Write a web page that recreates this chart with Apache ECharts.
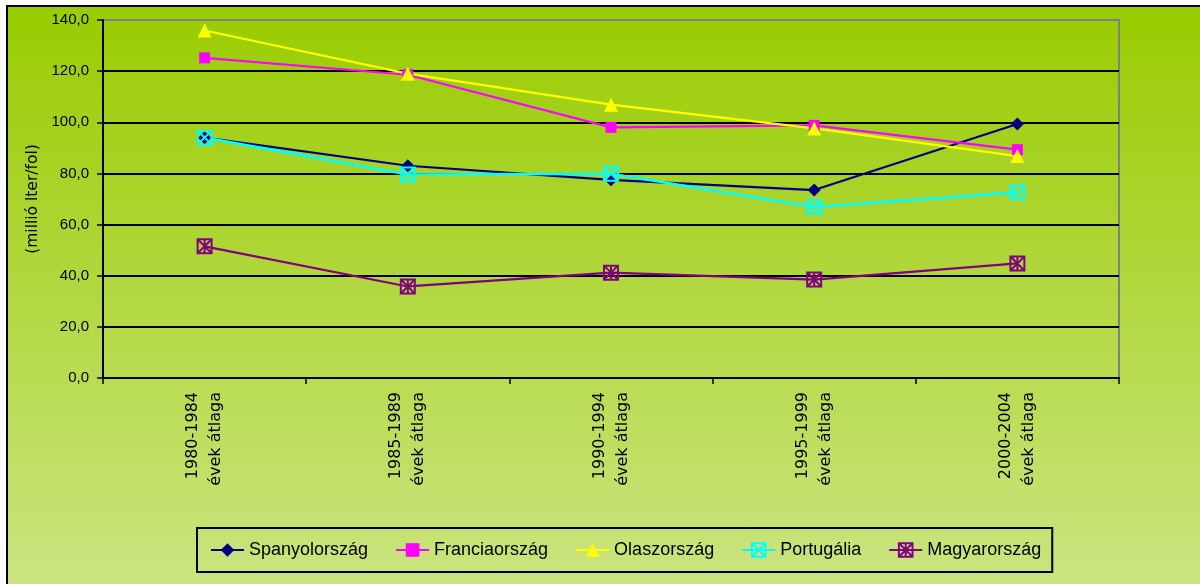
<!DOCTYPE html>
<html>
<head>
<meta charset="utf-8">
<script src="https://cdn.jsdelivr.net/npm/echarts@6/dist/echarts.min.js"></script>
<style>html,body{margin:0;padding:0;background:#fff}#c{width:1200px;height:584px}</style>
</head>
<body>
<div id="c"></div>
<script>
const categories = ['1980-1984\névek átlaga', '1985-1989\névek átlaga', '1990-1994\névek átlaga', '1995-1999\névek átlaga', '2000-2004\névek átlaga'];
const spanyolorszag = [94.0, 83.0, 77.5, 73.5, 99.3];
const franciaorszag = [125.2, 118.6, 98.0, 98.8, 89.3];
const olaszorszag = [135.9, 119.0, 106.9, 97.6, 86.8];
const portugalia = [94.0, 79.6, 79.9, 66.9, 72.6];
const magyarorszag = [51.5, 35.8, 41.2, 38.5, 44.8];
const yAxisTitle = '(millió lter/fol)';

const boxX = 'path://M0 0 L10 0 L10 10 L0 10 Z M0 0 L10 10 M10 0 L0 10';
const boxStar = 'path://M0 0 L10 0 L10 10 L0 10 Z M0 0 L10 10 M10 0 L0 10 M5 0 L5 10';

const chart = echarts.init(document.getElementById('c'), null, {renderer: 'canvas'});
const splitColors = ['#000', '#000', '#000', '#000', '#000', '#000', '#000', '#808080'];

function mk(name, data, color, symbol, size, width, hollow) {
  return {
    name: name, type: 'line', data: data, symbol: symbol, symbolSize: size,
    animation: false,
    lineStyle: {color: color, width: width},
    itemStyle: hollow ? {color: 'rgba(0,0,0,0)', borderColor: color, borderWidth: 2} : {color: color, borderWidth: 0},
    emphasis: {disabled: true}
  };
}

chart.setOption({
  backgroundColor: '#ffffff',
  animation: false,
  graphic: [{
    type: 'rect', z: -100, silent: true,
    shape: {x: 7, y: 6, width: 1210, height: 600},
    style: {
      fill: new echarts.graphic.LinearGradient(0, 0, 0, 1, [
        {offset: 0, color: '#99cc00'},
        {offset: 1, color: '#cde585'}
      ]),
      stroke: '#000', lineWidth: 2
    }
  }],
  grid: {left: 103, right: 81, top: 20, bottom: 206, show: true, borderColor: '#808080', borderWidth: 2, backgroundColor: 'transparent'},
  legend: {
    left: 197, top: 528,
    padding: [13, 11, 13, 13],
    borderColor: '#000', borderWidth: 2,
    itemWidth: 33, itemHeight: 17, itemGap: 27,
    textStyle: {fontFamily: 'Arial, "Liberation Sans"', fontSize: 18, color: '#000'},
    data: ['Spanyolország', 'Franciaország', 'Olaszország', 'Portugália', 'Magyarország']
  },
  xAxis: {
    type: 'category', data: categories, boundaryGap: true,
    axisLine: {lineStyle: {color: '#000', width: 2}},
    axisTick: {show: true, length: 6, lineStyle: {color: '#000', width: 1.5}},
    axisLabel: {rotate: 90, margin: 14, interval: 0, fontFamily: '"DejaVu Sans"', fontSize: 16, lineHeight: 23, color: '#000'}
  },
  yAxis: {
    type: 'value', min: 0, max: 140, interval: 20,
    name: yAxisTitle, nameLocation: 'middle', nameGap: 61, nameRotate: 90,
    nameTextStyle: {fontFamily: '"DejaVu Sans"', fontSize: 15.5, color: '#000'},
    axisLine: {show: true, lineStyle: {color: '#000', width: 2}},
    axisTick: {show: true, length: 6, lineStyle: {color: '#000', width: 1.5}},
    axisLabel: {margin: 14, fontFamily: 'Arial, "Liberation Sans"', fontSize: 15, color: '#000',
      formatter: function (v) { return v.toFixed(1).replace('.', ','); }},
    splitLine: {show: true, lineStyle: {color: splitColors, width: 2}}
  },
  series: [
    mk('Spanyolország', spanyolorszag, '#000080', 'diamond', 13, 2.2, false),
    mk('Franciaország', franciaorszag, '#ff00ff', 'rect', 11, 2.2, false),
    mk('Olaszország', olaszorszag, '#ffff00', 'triangle', 14, 2.2, false),
    mk('Portugália', portugalia, '#00ffff', boxX, 14, 2.6, true),
    mk('Magyarország', magyarorszag, '#800080', boxStar, 14, 2.2, true)
  ]
});
</script>
</body>
</html>
